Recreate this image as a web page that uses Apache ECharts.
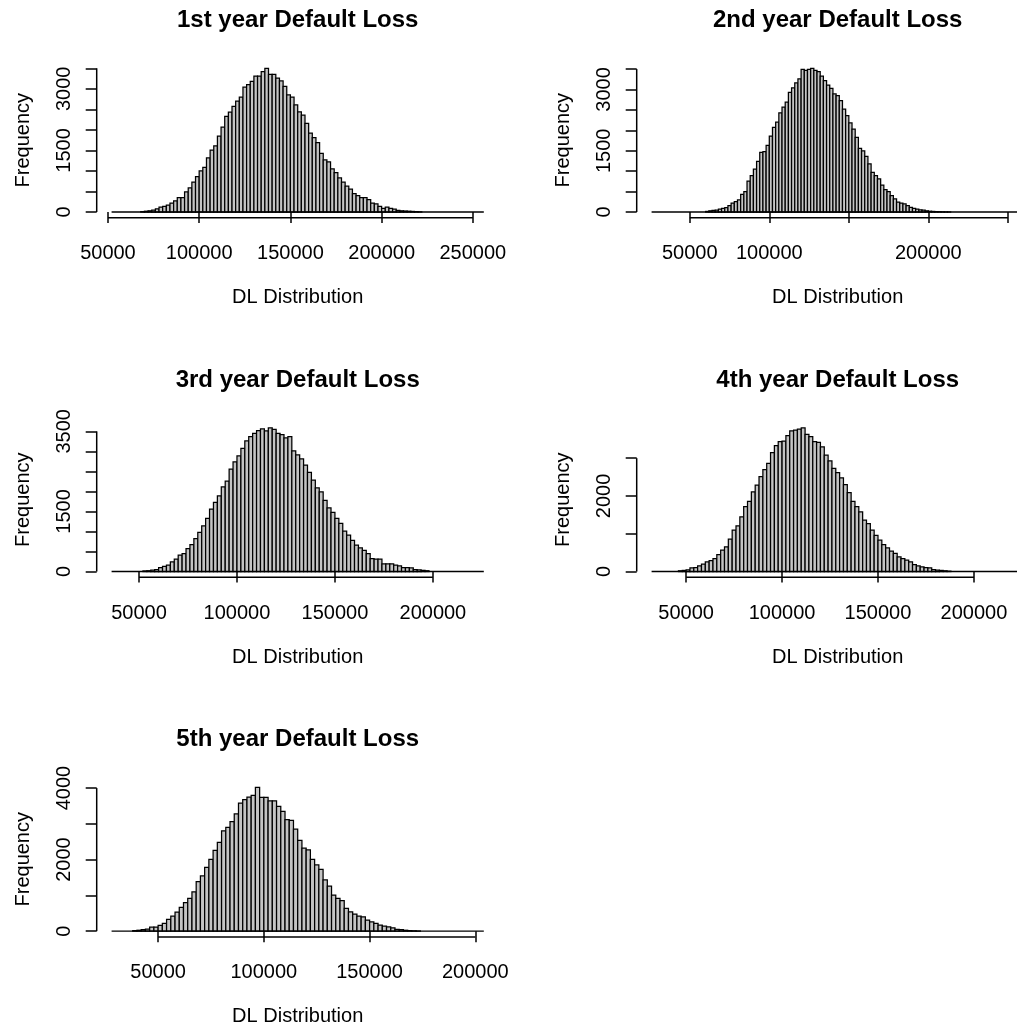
<!DOCTYPE html>
<html><head><meta charset="utf-8">
<script src="https://cdn.jsdelivr.net/npm/echarts@6/dist/echarts.min.js"></script>
<style>html,body{margin:0;padding:0;background:#fff;overflow:hidden;width:1017px;height:1031px}#c{width:1060px;height:1031px}</style>
</head><body><div id="c"></div>
<script>
// ---------- data ----------
const binWidth = 2000;
const titles = ['1st year Default Loss','2nd year Default Loss','3rd year Default Loss','4th year Default Loss','5th year Default Loss'];
const xName = 'DL Distribution';
const yName = 'Frequency';

// histogram break range (first/last break) for each panel
const breaks1 = [52000, 256000];
const breaks2 = [26000, 260000];
const breaks3 = [36000, 226000];
const breaks4 = [32000, 226000];
const breaks5 = [28000, 204000];

// left edge of first non-empty bin
const start1 = 68000, start2 = 60000, start3 = 52000, start4 = 46000, start5 = 38000;

const counts1 = [10,20,30,45,80,120,140,170,220,270,350,350,490,590,730,860,1000,1090,1320,1510,1610,1850,2070,2330,2430,2570,2700,2800,3040,3100,3180,3310,3310,3420,3500,3350,3350,3260,3190,3060,2850,2800,2610,2440,2360,2160,1920,1810,1690,1430,1270,1220,1050,960,830,730,630,560,450,400,350,350,300,220,200,140,90,120,90,70,40,30,25,20,15,10,5];
const counts2 = [15,30,40,50,70,90,110,155,220,255,295,435,500,760,890,1050,1240,1460,1480,1630,1860,2070,2200,2430,2570,2690,2930,3040,3160,3260,3490,3470,3490,3520,3470,3440,3330,3220,3110,3030,2890,2850,2730,2520,2360,2180,2030,1830,1560,1500,1360,1180,970,890,810,660,550,500,400,320,240,220,200,155,115,90,70,55,45,30,20,15,10,8,5,3,2];
const counts3 = [15,20,35,50,100,130,160,240,310,410,450,575,675,825,975,1140,1325,1560,1725,1890,2115,2260,2560,2740,2890,3075,3260,3370,3450,3520,3560,3510,3590,3550,3450,3420,3340,3370,3010,2910,2810,2660,2475,2280,2090,1990,1780,1590,1475,1325,1200,1010,910,780,660,590,530,450,325,310,310,190,190,190,160,140,100,100,90,50,40,30,20];
const counts4 = [20,30,45,100,105,150,195,255,290,345,450,565,655,855,1095,1210,1450,1715,1860,2110,2290,2510,2700,2860,3150,3330,3435,3450,3595,3720,3745,3770,3805,3630,3570,3435,3420,3300,3080,2930,2730,2620,2480,2300,2090,1860,1715,1580,1360,1270,1095,960,830,715,625,540,480,390,345,300,255,185,150,125,105,100,50,40,30,20,10];
const counts5 = [15,25,40,55,110,115,160,215,330,420,530,665,795,915,1100,1385,1545,1785,2010,2255,2480,2805,2900,3065,3280,3580,3675,3750,3795,4020,3740,3740,3645,3645,3490,3350,3115,3100,2850,2535,2320,2270,2010,1850,1730,1430,1260,1010,915,850,635,540,475,420,400,310,260,215,170,140,120,95,50,40,25,15,10,5];

// axis ticks and the labels that are printed
const xTicks1 = [50000,100000,150000,200000,250000], xLabels1 = [50000,100000,150000,200000,250000];
const xTicks2 = [50000,100000,150000,200000,250000], xLabels2 = [50000,100000,200000];
const xTicks3 = [50000,100000,150000,200000], xLabels3 = [50000,100000,150000,200000];
const xTicks4 = [50000,100000,150000,200000], xLabels4 = [50000,100000,150000,200000];
const xTicks5 = [50000,100000,150000,200000], xLabels5 = [50000,100000,150000,200000];
const yTicks1 = [0,500,1000,1500,2000,2500,3000,3500], yLabels1 = [0,1500,3000];
const yTicks2 = [0,500,1000,1500,2000,2500,3000,3500], yLabels2 = [0,1500,3000];
const yTicks3 = [0,500,1000,1500,2000,2500,3000,3500], yLabels3 = [0,1500,3500];
const yTicks4 = [0,1000,2000,3000], yLabels4 = [0,2000];
const yTicks5 = [0,1000,2000,3000,4000], yLabels5 = [0,2000,4000];

// ---------- layout ----------
const layout = {
  left: [96.7, 636.7, 96.7, 636.7, 96.7],
  top: [62.5, 62.5, 422, 422, 781.6],
  width: 402, height: 155.3,
  titleTop: [8.5, 8.5, 368, 368, 727.5]
};
const FONT = 'Liberation Sans, Arial, sans-serif';

const panels = [
  {breaks: breaks1, start: start1, counts: counts1, xt: xTicks1, xl: xLabels1, yt: yTicks1, yl: yLabels1},
  {breaks: breaks2, start: start2, counts: counts2, xt: xTicks2, xl: xLabels2, yt: yTicks2, yl: yLabels2},
  {breaks: breaks3, start: start3, counts: counts3, xt: xTicks3, xl: xLabels3, yt: yTicks3, yl: yLabels3},
  {breaks: breaks4, start: start4, counts: counts4, xt: xTicks4, xl: xLabels4, yt: yTicks4, yl: yLabels4},
  {breaks: breaks5, start: start5, counts: counts5, xt: xTicks5, xl: xLabels5, yt: yTicks5, yl: yLabels5}
];

const grid = [], xAxis = [], yAxis = [], series = [], title = [];
panels.forEach((p, k) => {
  const span = p.breaks[1] - p.breaks[0];
  const xmin = p.breaks[0] - 0.04 * span, xmax = p.breaks[1] + 0.04 * span;
  const M = Math.max.apply(null, p.counts);
  const ymin = -0.04 * M, ymax = 1.04 * M;
  grid.push({left: layout.left[k], top: layout.top[k], width: layout.width, height: layout.height, containLabel: false});
  title.push({
    text: titles[k], left: layout.left[k] + layout.width / 2, top: layout.titleTop[k], textAlign: 'center', padding: 0,
    textStyle: {fontSize: 24, fontWeight: 'bold', fontFamily: FONT, color: '#000'}
  });
  xAxis.push({
    type: 'value', gridIndex: k, min: xmin, max: xmax,
    axisLine: {show: false}, splitLine: {show: false},
    axisTick: {show: true, customValues: p.xt, length: 11, inside: false, lineStyle: {color: '#000', width: 1.5}},
    axisLabel: {show: true, customValues: p.xl, margin: 26, fontSize: 20, fontFamily: FONT, color: '#000', hideOverlap: false,
      formatter: v => String(v)},
    name: xName, nameLocation: 'middle', nameGap: 70,
    nameTextStyle: {fontSize: 20, fontFamily: FONT, color: '#000'}
  });
  yAxis.push({
    type: 'value', gridIndex: k, min: ymin, max: ymax,
    axisLine: {show: false}, splitLine: {show: false},
    axisTick: {show: true, customValues: p.yt, length: 11, inside: false, lineStyle: {color: '#000', width: 1.5}},
    axisLabel: {show: true, customValues: p.yl, rotate: 90, margin: 22, fontSize: 20, fontFamily: FONT, color: '#000',
      formatter: v => String(v)},
    name: yName, nameLocation: 'middle', nameGap: 63, nameRotate: 90,
    nameTextStyle: {fontSize: 20, fontFamily: FONT, color: '#000'}
  });
  const data = p.counts.map((c, i) => [p.start + i * binWidth, p.start + (i + 1) * binWidth, c]);
  series.push({
    type: 'custom', xAxisIndex: k, yAxisIndex: k, data: data, clip: false,
    encode: {x: [0, 1], y: 2},
    renderItem: (params, api) => {
      const a = api.coord([api.value(0), api.value(2)]);
      const b = api.coord([api.value(1), 0]);
      return {type: 'rect', shape: {x: a[0], y: a[1], width: b[0] - a[0], height: b[1] - a[1]},
        style: {fill: '#c4c4c4', stroke: '#000', lineWidth: 1.25}};
    },
    silent: true, animation: false
  });
  // axis lines (R style: from first to last tick) and the zero baseline over the break range
  series.push({
    type: 'custom', xAxisIndex: k, yAxisIndex: k, data: [[p.breaks[0], 0]], clip: false,
    renderItem: (params, api) => {
      const b0 = api.coord([p.breaks[0], 0]), b1 = api.coord([p.breaks[1], 0]);
      const x0 = api.coord([p.xt[0], ymin]), x1 = api.coord([p.xt[p.xt.length - 1], ymin]);
      const y0 = api.coord([xmin, p.yt[0]]), y1 = api.coord([xmin, p.yt[p.yt.length - 1]]);
      const st = {stroke: '#000', lineWidth: 1.5};
      return {type: 'group', children: [
        {type: 'line', shape: {x1: b0[0], y1: b0[1], x2: b1[0], y2: b1[1]}, style: {stroke: '#000', lineWidth: 1.4}},
        {type: 'line', shape: {x1: x0[0], y1: x0[1], x2: x1[0], y2: x1[1]}, style: st},
        {type: 'line', shape: {x1: y0[0], y1: y0[1], x2: y1[0], y2: y1[1]}, style: st}
      ]};
    },
    silent: true, animation: false
  });
});

const chart = echarts.init(document.getElementById('c'), null, {renderer: 'canvas'});
chart.setOption({backgroundColor: '#fff', animation: false, title, grid, xAxis, yAxis, series});
</script>
</body></html>
